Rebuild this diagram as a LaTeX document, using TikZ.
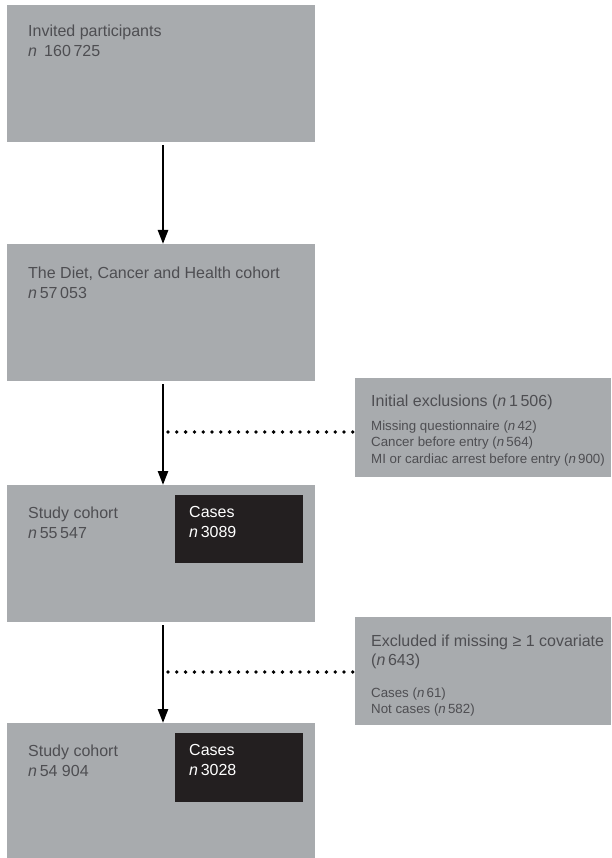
\documentclass[tikz,border=0pt]{standalone}
\usepackage{fontspec}
\setmainfont{Liberation Sans}
\usetikzlibrary{arrows.meta}

\definecolor{boxgray}{RGB}{168,171,174}
\definecolor{txtgray}{RGB}{78,78,82}
\definecolor{casebk}{RGB}{35,31,32}

\tikzset{
  stagebox/.style={fill=boxgray, draw=none, inner sep=0pt, outer sep=0pt,
    anchor=north west, minimum width=308pt, minimum height=137pt},
  exclbox/.style={fill=boxgray, draw=none, inner sep=0pt, outer sep=0pt,
    anchor=north west, minimum width=256pt},
  casebox/.style={fill=casebk, draw=none, inner sep=0pt, outer sep=0pt,
    anchor=north west, minimum width=128pt, minimum height=68pt},
  maintxt/.style={anchor=north west, inner sep=0pt, align=left, text=txtgray,
    font=\fontsize{16}{20}\selectfont},
  casetxt/.style={maintxt, text=white},
  headtxt/.style={maintxt, font=\fontsize{16}{19.5}\selectfont},
  itemtxt/.style={maintxt, font=\fontsize{13.3}{16.5}\selectfont},
  flow/.style={line width=2.5pt, -{Triangle[width=10pt,length=14pt]}, shorten <=3pt},
  dotline/.style={line width=3.8pt, line cap=round, dash pattern=on 0pt off 8.8pt}
}

\begin{document}
\begin{tikzpicture}[x=1pt,y=-1pt]
\useasboundingbox[fill=white] (0,0) rectangle (611,858);

% BOXES
\node[stagebox] (invited) at (7,5) {};
\node[stagebox] (dch)     at (7,244) {};
\node[stagebox] (study1)  at (7,485) {};
\node[stagebox, minimum height=135pt] (study2) at (7,723) {};

\node[casebox] (cases1) at (175,495) {};
\node[casebox, minimum height=69pt] (cases2) at (175,733) {};

\node[exclbox, minimum height=99pt]  (excl1) at (355,378) {};
\node[exclbox, minimum height=108pt] (excl2) at (355,617) {};

% TEXTS
\node[maintxt] (t1) at (28,24.5)  {Invited participants\\\textit{n}\, 160\,725};
\node[maintxt] (t2) at (28,266.5) {The Diet, Cancer and Health cohort\\\textit{n}\,57\,053};
\node[maintxt] (t3) at (28,506.5) {Study cohort\\\textit{n}\,55\,547};
\node[casetxt] (c3) at (189,506.5) {Cases\\\textit{n}\,3089};
\node[maintxt] (t4) at (28,744.5) {Study cohort\\\textit{n}\,54 904};
\node[casetxt] (c4) at (189,744.5) {Cases\\\textit{n}\,3028};

\node[headtxt] (e1h) at (371,394.5) {Initial exclusions (\textit{n}\,1\,506)};
\node[itemtxt] (e1i) at (371,420.5) {Missing questionnaire (\textit{n}\,42)\\
  Cancer before entry (\textit{n}\,564)\\
  MI or cardiac arrest before entry (\textit{n}\,900)};
\node[headtxt] (e2h) at (371,634.5) {Excluded if missing ≥ 1 covariate\\(\textit{n}\,643)};
\node[itemtxt] (e2i) at (371,687.5) {Cases (\textit{n}\,61)\\Not cases (\textit{n}\,582)};

% ARROWS
\draw[flow] ([xshift=2pt]invited.south) -- ([xshift=2pt]dch.north);
\draw[flow] ([xshift=2pt]dch.south) -- ([xshift=2pt]study1.north);
\draw[flow] ([xshift=2pt]study1.south) -- ([xshift=2pt]study2.north);

% DOTTED LINKS
\coordinate (d1) at (168,432);
\coordinate (d2) at (168,672);
\draw[dotline] (d1) -- ([xshift=-2pt]d1 -| excl1.west);
\draw[dotline] (d2) -- ([xshift=-2pt]d2 -| excl2.west);

\end{tikzpicture}
\end{document}
